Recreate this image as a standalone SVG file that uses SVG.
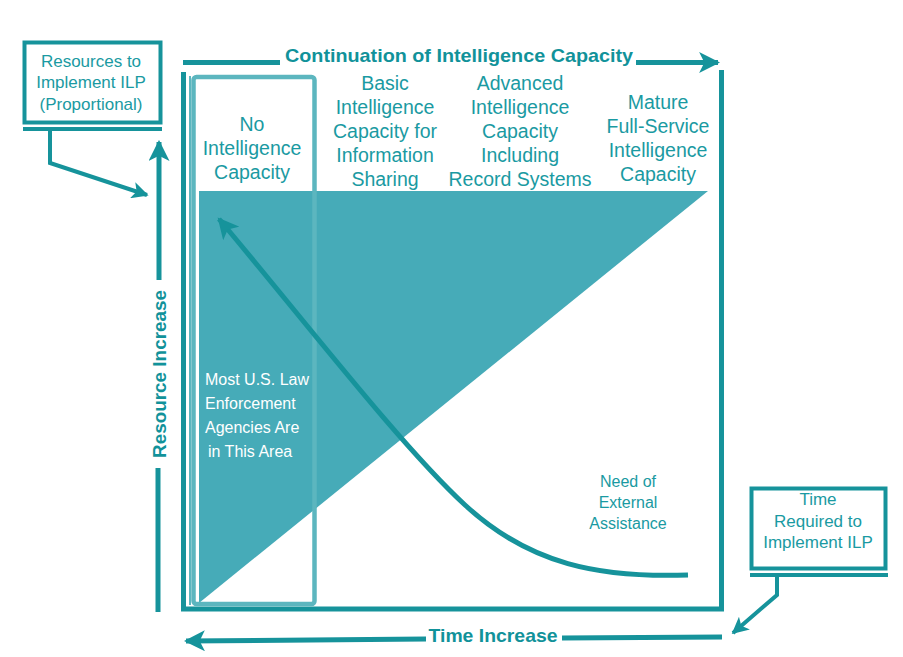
<svg xmlns="http://www.w3.org/2000/svg" width="903" height="657" viewBox="0 0 903 657">
<defs>
<style>
.dark{stroke:#16939b;fill:none;stroke-width:5}
.lite{stroke:#5cb6bf;fill:none}
.t{font-family:"Liberation Sans",Arial,sans-serif;fill:#1a9aa2;text-anchor:middle}
.h{font-size:19.5px}
.b{font-weight:bold;fill:#11929a}
.w{font-family:"Liberation Sans",Arial,sans-serif;fill:#ffffff;font-size:16px}
.s{font-size:17px}
</style>
<marker id="ah" viewBox="0 0 10 10" refX="9" refY="5" markerWidth="4.2" markerHeight="4.2" orient="auto" markerUnits="strokeWidth">
<path d="M0,0 L10,5 L0,10 L2.5,5 Z" fill="#16939b"/>
</marker>
</defs>
<rect width="903" height="657" fill="#ffffff"/>

<g id="chart-area">
<polygon points="199,191 708,191 199,603" fill="#46abb8"/>
<path class="dark" d="M183.5,72 V609 H721.5 V70"/>
<line class="lite" x1="190" y1="76" x2="190" y2="605" stroke-width="2"/>
</g>

<g id="no-capacity-column">
<rect class="lite" x="193.5" y="77" width="121" height="527" rx="3" stroke-width="4.5"/>
<text class="t h" x="252" y="131">No</text>
<text class="t h" x="252" y="155">Intelligence</text>
<text class="t h" x="252" y="179">Capacity</text>
<text class="w" x="205" y="385">Most U.S. Law</text>
<text class="w" x="205" y="409">Enforcement</text>
<text class="w" x="205" y="433">Agencies Are</text>
<text class="w" x="208" y="457">in This Area</text>
</g>

<g id="basic-column">
<text class="t h" x="385" y="90">Basic</text>
<text class="t h" x="385" y="114">Intelligence</text>
<text class="t h" x="385" y="138">Capacity for</text>
<text class="t h" x="385" y="162">Information</text>
<text class="t h" x="385" y="186">Sharing</text>
</g>

<g id="advanced-column">
<text class="t h" x="520" y="90">Advanced</text>
<text class="t h" x="520" y="114">Intelligence</text>
<text class="t h" x="520" y="138">Capacity</text>
<text class="t h" x="520" y="162">Including</text>
<text class="t h" x="520" y="186">Record Systems</text>
</g>

<g id="mature-column">
<text class="t h" x="658" y="109">Mature</text>
<text class="t h" x="658" y="133">Full-Service</text>
<text class="t h" x="658" y="157">Intelligence</text>
<text class="t h" x="658" y="181">Capacity</text>
</g>

<g id="external-assistance">
<text class="t" font-size="16" x="628" y="487">Need of</text>
<text class="t" font-size="16" x="628" y="508">External</text>
<text class="t" font-size="16" x="628" y="529">Assistance</text>
</g>

<g id="resources-box">
<rect x="24.5" y="42.5" width="136" height="80" fill="#ffffff" stroke="#16939b" stroke-width="4"/>
<line x1="23" y1="129" x2="162" y2="129" stroke="#16939b" stroke-width="4"/>
<text class="t s" x="91" y="67">Resources to</text>
<text class="t s" x="91" y="88">Implement ILP</text>
<text class="t s" x="91" y="110">(Proportional)</text>
</g>

<g id="time-box">
<rect x="751.5" y="488.5" width="134" height="80" fill="#ffffff" stroke="#16939b" stroke-width="4"/>
<line x1="750" y1="575" x2="888" y2="575" stroke="#16939b" stroke-width="4"/>
<text class="t s" x="818" y="505">Time</text>
<text class="t s" x="818" y="527">Required to</text>
<text class="t s" x="818" y="548">Implement ILP</text>
</g>

<g id="axis-labels">
<text class="t b" font-size="19" x="459" y="62" textLength="348" lengthAdjust="spacingAndGlyphs">Continuation of Intelligence Capacity</text>
<text class="t b" font-size="19" x="493" y="642" textLength="129" lengthAdjust="spacingAndGlyphs">Time Increase</text>
<text class="t b" font-size="18" transform="translate(166,374) rotate(-90)" x="0" y="0" textLength="168" lengthAdjust="spacingAndGlyphs">Resource Increase</text>
</g>

<g id="connectors" fill="none" stroke="#16939b">
<line x1="183" y1="62.5" x2="280" y2="62.5" stroke-width="5"/>
<line x1="636" y1="62.5" x2="718" y2="62.5" stroke-width="5" marker-end="url(#ah)"/>
<line x1="722" y1="637" x2="562" y2="638" stroke-width="5"/>
<line x1="426" y1="639" x2="186" y2="641" stroke-width="5" marker-end="url(#ah)"/>
<line x1="159" y1="280" x2="159" y2="142" stroke-width="5" marker-end="url(#ah)"/>
<line x1="158" y1="468" x2="158" y2="612" stroke-width="5"/>
<path d="M50,131 V163 L147,195" stroke-width="4" marker-end="url(#ah)"/>
<path d="M777,577 V595 L733,633" stroke-width="4" marker-end="url(#ah)"/>
<path d="M688,575 C600,578 530,565 465,505 C400,445 300,315 219,219" stroke-width="5" marker-end="url(#ah)"/>
</g>
</svg>
